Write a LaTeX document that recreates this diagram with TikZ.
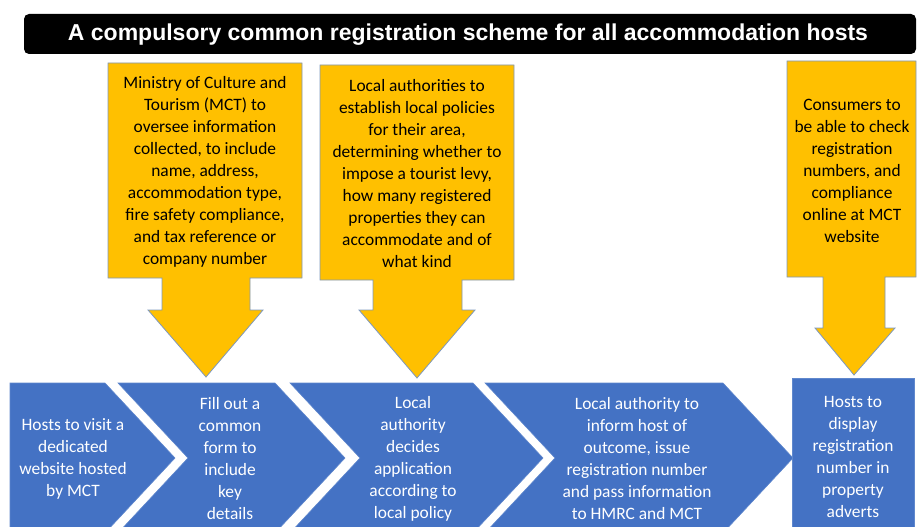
\documentclass[tikz,border=0pt]{standalone}
\usepackage{fontspec}
\setmainfont{Carlito}
\newfontfamily\titlefont{Liberation Sans}
\begin{document}
\begin{tikzpicture}[x=1pt,y=-1pt,
  every node/.style={inner sep=0pt, align=center},
  bodytext/.style={font=\fontsize{17.4}{22}\selectfont},
  steptext/.style={bodytext, text=white},
  notetext/.style={bodytext, text=black},
  stepshape/.style={fill=stepblue, draw=stepedge, line width=0.6pt},
  noteshape/.style={fill=noteorange, draw=noteedge, line width=0.8pt, line join=miter}]
\definecolor{stepblue}{RGB}{68,114,196}
\definecolor{stepedge}{RGB}{96,136,205}
\definecolor{noteorange}{RGB}{255,192,0}
\definecolor{noteedge}{RGB}{125,152,190}

\useasboundingbox (0,0) rectangle (918,527);
\clip (0,0) rectangle (918,527);

% title banner
\fill[black, rounded corners=5pt] (24,14) rectangle (916,54);
\node[text=white, font=\titlefont\bfseries\fontsize{23}{26}\selectfont] (title) at (468,34.5)
  {A compulsory common registration scheme for all accommodation hosts};

% process chevrons
\draw[stepshape] (10,383) -- (105,383) -- (175,458) -- (105,533) -- (10,533) -- cycle;
\draw[stepshape] (118,383) -- (275,383) -- (345,458) -- (275,533) -- (118,533) -- (188,458) -- cycle;
\draw[stepshape] (290,383) -- (473,383) -- (543,458) -- (473,533) -- (290,533) -- (360,458) -- cycle;
\draw[stepshape] (485,383) -- (723,383) -- (793,458) -- (723,533) -- (485,533) -- (555,458) -- cycle;
\draw[stepshape] (792,378) rectangle (914,533);

\node[steptext] (s1) at (73,459) {Hosts to visit a\\dedicated\\website hosted\\by MCT};
\node[steptext] (s2) at (230,459) {Fill out a\\common\\form to\\include\\key\\details};
\node[steptext] (s3) at (413,459) {Local\\authority\\decides\\application\\according to\\local policy};
\node[steptext] (s4) at (637,459) {Local authority to\\inform host of\\outcome, issue\\registration number\\and pass information\\to HMRC and MCT};
\node[steptext] (s5) at (853,457) {Hosts to\\display\\registration\\number in\\property\\adverts};

% callout arrows
\draw[noteshape] (108,63) -- (302,63) -- (302,278) -- (250,278) -- (250,310) -- (263,310)
  -- (206,377) -- (148,310) -- (162,310) -- (162,278) -- (108,278) -- cycle;
\draw[noteshape] (320,65) -- (514,65) -- (514,280) -- (462,280) -- (462,310) -- (475,310)
  -- (417,378) -- (359,310) -- (373,310) -- (373,280) -- (320,280) -- cycle;
\draw[noteshape] (787,61) -- (916,61) -- (916,277) -- (885,277) -- (885,328) -- (895,328)
  -- (854,375) -- (815,328) -- (823,328) -- (823,277) -- (787,277) -- cycle;

\node[notetext] (n1) at (205,172) {Ministry of Culture and\\Tourism (MCT) to\\oversee information\\collected, to include\\name, address,\\accommodation type,\\fire safety compliance,\\and tax reference or\\company number};
\node[notetext] (n2) at (417,174) {Local authorities to\\establish local policies\\for their area,\\determining whether to\\impose a tourist levy,\\how many registered\\properties they can\\accommodate and of\\what kind};
\node[notetext] (n3) at (852,171) {Consumers to\\be able to check\\registration\\numbers, and\\compliance\\online at MCT\\website};
\end{tikzpicture}
\end{document}
